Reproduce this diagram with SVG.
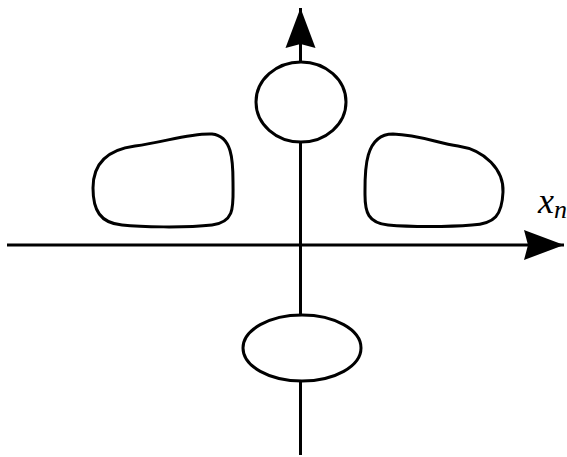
<svg xmlns="http://www.w3.org/2000/svg" width="567" height="457" viewBox="0 0 567 457">
<style>
.ln{stroke:#000;stroke-width:3;fill:none}
.nd{stroke:#000;stroke-width:3;fill:#fff}
</style>
<defs>
<marker id="ah" markerUnits="userSpaceOnUse" markerWidth="42" markerHeight="32" viewBox="0 0 42 32" refX="40" refY="16" orient="auto">
<path d="M40,16 L0,1 L4,16 L0,31 Z" fill="#000"/>
</marker>
</defs>
<g id="connectors">
<line class="ln" x1="7" y1="245" x2="564" y2="245" marker-end="url(#ah)"/>
<line class="ln" x1="300.5" y1="455" x2="300.5" y2="8" marker-end="url(#ah)"/>
</g>
<g id="node-top"><ellipse class="nd" cx="301" cy="102" rx="45" ry="40"/></g>
<g id="node-bottom"><ellipse class="nd" cx="302" cy="348" rx="59" ry="33"/></g>
<g id="node-left"><path class="nd" d="M135,146 C165,142 190,133 212,134 C232,136 233,160 233,182 C233,205 236,222 212,225 C185,228 140,227 122,225 C100,223 93,210 93,188 C93,165 105,150 135,146 Z"/></g>
<g id="node-right"><path class="nd" d="M393,134 C420,135 437,143 458,146 C485,150 504,170 503,192 C502,215 495,224 472,225 C448,227 410,227 388,225 C368,223 365,212 365,195 C365,175 363,134 393,134 Z"/></g>
<g id="label"><text x="538" y="213" font-family="'Liberation Serif', 'Times New Roman', serif" font-style="italic" font-size="36" fill="#000">x<tspan font-size="26" dy="5">n</tspan></text></g>
</svg>
